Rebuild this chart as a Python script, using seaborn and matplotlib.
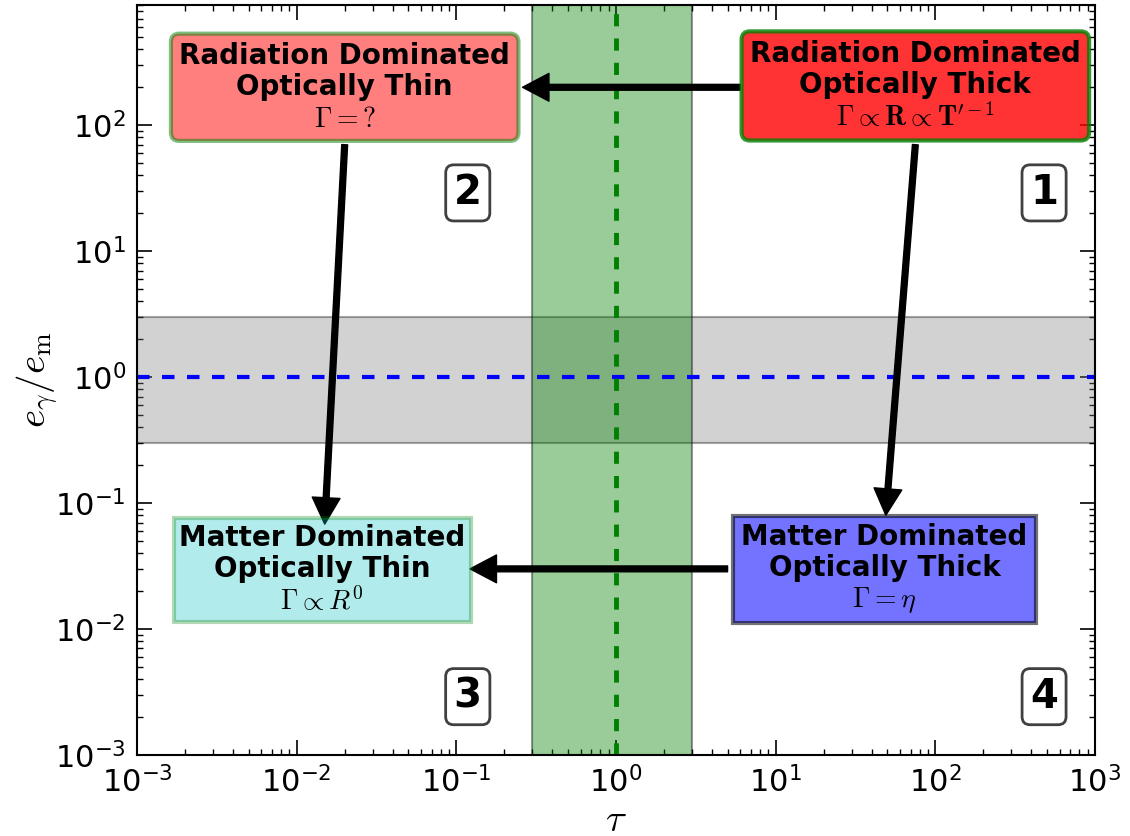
import matplotlib
matplotlib.use("Agg")
import matplotlib.pyplot as plt
import seaborn as sns

# Axis ranges
tau_range = [1e-3, 1e3]
ratio_range = [1e-3, 9e2]

# Transition bands around tau ~ 1 and e_gamma/e_m ~ 1
tau_band = [0.3, 3.0]
ratio_band = [0.3, 3.0]
tau_ref = 1.0
ratio_ref = 1.0

# Regime boxes
regime_titles = ["Radiation Dominated", "Radiation Dominated",
                 "Matter Dominated", "Matter Dominated"]
regime_depths = ["Optically Thick", "Optically Thin",
                 "Optically Thin", "Optically Thick"]
regime_laws = [r"$\Gamma \propto \mathbf{R} \propto \mathbf{T}^{\prime -1}$",
               r"$\Gamma = ?$",
               r"$\Gamma \propto R^0$",
               r"$\Gamma = \eta$"]
regime_tau = [75, 0.02, 0.0145, 48]
regime_ratio = [205, 200, 0.0295, 0.03]

# Quadrant numbers
quad_labels = ["1", "2", "3", "4"]
quad_tau = [480, 0.118, 0.118, 480]
quad_ratio = [29, 29, 0.0029, 0.0029]

# Evolution arrows: tail -> head
arrow_tail_tau = [6.0, 0.02, 75, 5.0]
arrow_tail_ratio = [200, 70, 70, 0.03]
arrow_head_tau = [0.26, 0.015, 49, 0.122]
arrow_head_ratio = [200, 0.068, 0.08, 0.03]

box_styles = [
    dict(boxstyle="round,pad=0.3", fc="red", ec="green", alpha=0.8, lw=3),
    dict(boxstyle="round,pad=0.3", fc="red", ec="green", alpha=0.5, lw=3),
    dict(boxstyle="square,pad=0.2", fc="c", ec="green", alpha=0.3, lw=3),
    dict(boxstyle="square,pad=0.3", fc="blue", ec="black", alpha=0.55, lw=3),
]

sns.set_style("ticks")
plt.rcParams.update({
    "font.family": ["DejaVu Sans"],
    "mathtext.fontset": "cm",
    "axes.unicode_minus": False,
    "text.color": "black",
    "axes.labelcolor": "black",
    "axes.linewidth": 1.5,
    "axes.edgecolor": "black",
    "xtick.direction": "in",
    "ytick.direction": "in",
    "xtick.major.size": 10.5,
    "ytick.major.size": 10.5,
    "xtick.minor.size": 4,
    "ytick.minor.size": 4,
    "xtick.major.width": 1.2,
    "ytick.major.width": 1.2,
    "xtick.minor.width": 1.0,
    "ytick.minor.width": 1.0,
    "xtick.major.pad": 8,
    "ytick.major.pad": 8,
    "xtick.labelsize": 22,
    "ytick.labelsize": 22,
    "xtick.color": "black",
    "ytick.color": "black",
})

fig, ax = plt.subplots(figsize=(11.3, 8.36), dpi=100)
fig.subplots_adjust(left=0.1212, right=0.969, top=0.994, bottom=0.097)

ax.set_xscale("log")
ax.set_yscale("log")

ax.axhspan(ratio_band[0], ratio_band[1], facecolor="gray", edgecolor="black",
           alpha=0.35, lw=1.5, zorder=1)
ax.axvspan(tau_band[0], tau_band[1], facecolor="green", edgecolor="black",
           alpha=0.4, lw=1.5, zorder=1)

sns.lineplot(x=tau_range, y=[ratio_ref, ratio_ref], ax=ax, color="blue",
             lw=3, linestyle=(0, (3, 3)), estimator=None, sort=False, zorder=2)
sns.lineplot(x=[tau_ref, tau_ref], y=ratio_range, ax=ax, color="green",
             lw=3.5, linestyle=(0, (2.5, 2.5)), estimator=None, sort=False,
             orient="y", zorder=2)

for xt, yt, xh, yh in zip(arrow_tail_tau, arrow_tail_ratio,
                          arrow_head_tau, arrow_head_ratio):
    ax.annotate("", xy=(xh, yh), xytext=(xt, yt),
                arrowprops=dict(facecolor="black", edgecolor="black", lw=1,
                                width=4.2, headwidth=20, headlength=19,
                                shrink=0), zorder=3)

for title, depth, law, x, y, style in zip(regime_titles, regime_depths,
                                          regime_laws, regime_tau,
                                          regime_ratio, box_styles):
    ax.text(x, y, f"{title}\n{depth}\n{law}", ha="center", va="center",
            multialignment="center", fontsize=20, fontweight="bold",
            linespacing=1.15, bbox=style, zorder=4)

for lab, x, y in zip(quad_labels, quad_tau, quad_ratio):
    ax.text(x, y, lab, ha="center", va="center", fontsize=29,
            fontweight="bold",
            bbox=dict(boxstyle="round,pad=0.2", fc="white", ec="black",
                      alpha=0.75, lw=2), zorder=4)

ax.set_xlim(*tau_range)
ax.set_ylim(*ratio_range)
ax.tick_params(which="both", top=True, right=True)
ax.set_xlabel(r"$\tau$", fontsize=28, labelpad=2)
ax.set_ylabel(r"$e_\gamma/e_\mathrm{m}$", fontsize=28, labelpad=-4)

fig.savefig("out.png", dpi=100)
